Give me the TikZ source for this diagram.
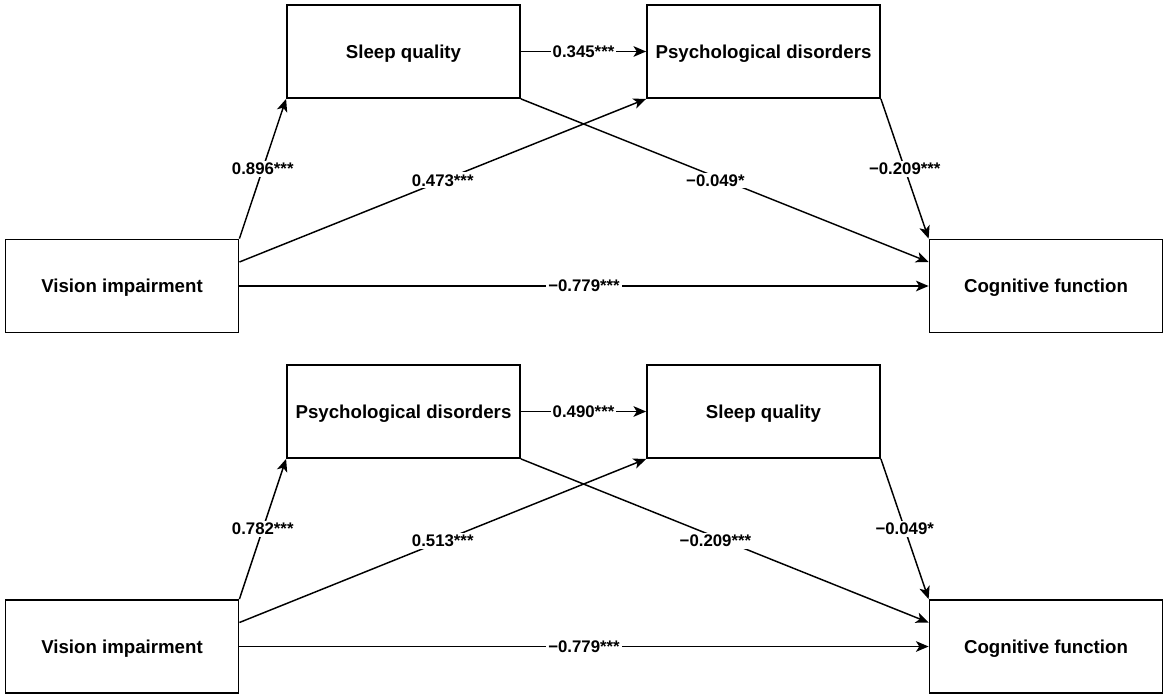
\documentclass[tikz,border=0pt]{standalone}
\usepackage{fontspec}
\setmainfont{Liberation Sans}
\usetikzlibrary{arrows.meta}
\tikzset{every picture/.style={line width=1.1pt}}
\tikzset{
  varbox/.style={draw, rectangle, minimum width=175pt, minimum height=70pt, inner sep=0pt, text depth=0pt, font=\fontsize{14}{16}\selectfont\bfseries},
  coef/.style={fill=white, inner sep=1.5pt, font=\fontsize{12.6}{14}\selectfont\bfseries},
  path/.style={-{Stealth[length=9.5pt,width=8pt,inset=2.5pt]}}
}
\begin{document}
\begin{tikzpicture}[x=0.75pt,y=0.75pt,yscale=-1,xscale=1]
\useasboundingbox (0,0) rectangle (1169,699);

%Top model
% Text Node
\node [varbox] (sq1) at (403.5,51.5) {Sleep quality};
% Text Node
\node [varbox] (pd1) at (763.5,51.5) {Psychological disorders};
% Text Node
\node [varbox] (vi1) at (122,286) {Vision impairment};
% Text Node
\node [varbox] (cf1) at (1046,286) {Cognitive function};

%Straight Lines
\draw [path] (vi1.north east) -- (sq1.south west) node [coef, midway] {0.896***};
\draw [path] ([yshift=-18pt]vi1.east) -- (pd1.south west) node [coef, midway] {0.473***};
\draw [path] (sq1.south east) -- ([yshift=-18pt]cf1.west) node [coef, midway, xshift=-7pt] {−0.049*};
\draw [path] (pd1.south east) -- (cf1.north west) node [coef, midway] {−0.209***};
\draw [path] (sq1.east) -- (pd1.west) node [coef, midway] {0.345***};
\draw [path] (vi1.east) -- (cf1.west) node [coef, midway] {−0.779***};

%Bottom model
% Text Node
\node [varbox] (pd2) at (403.5,411.5) {Psychological disorders};
% Text Node
\node [varbox] (sq2) at (763.5,411.5) {Sleep quality};
% Text Node
\node [varbox] (vi2) at (122,646.5) {Vision impairment};
% Text Node
\node [varbox] (cf2) at (1046,646.5) {Cognitive function};

%Straight Lines
\draw [path] (vi2.north east) -- (pd2.south west) node [coef, midway] {0.782***};
\draw [path] ([yshift=-18pt]vi2.east) -- (sq2.south west) node [coef, midway] {0.513***};
\draw [path] (pd2.south east) -- ([yshift=-18pt]cf2.west) node [coef, midway, xshift=-7pt] {−0.209***};
\draw [path] (sq2.south east) -- (cf2.north west) node [coef, midway] {−0.049*};
\draw [path] (pd2.east) -- (sq2.west) node [coef, midway] {0.490***};
\draw [path] (vi2.east) -- (cf2.west) node [coef, midway] {−0.779***};

\end{tikzpicture}
\end{document}
